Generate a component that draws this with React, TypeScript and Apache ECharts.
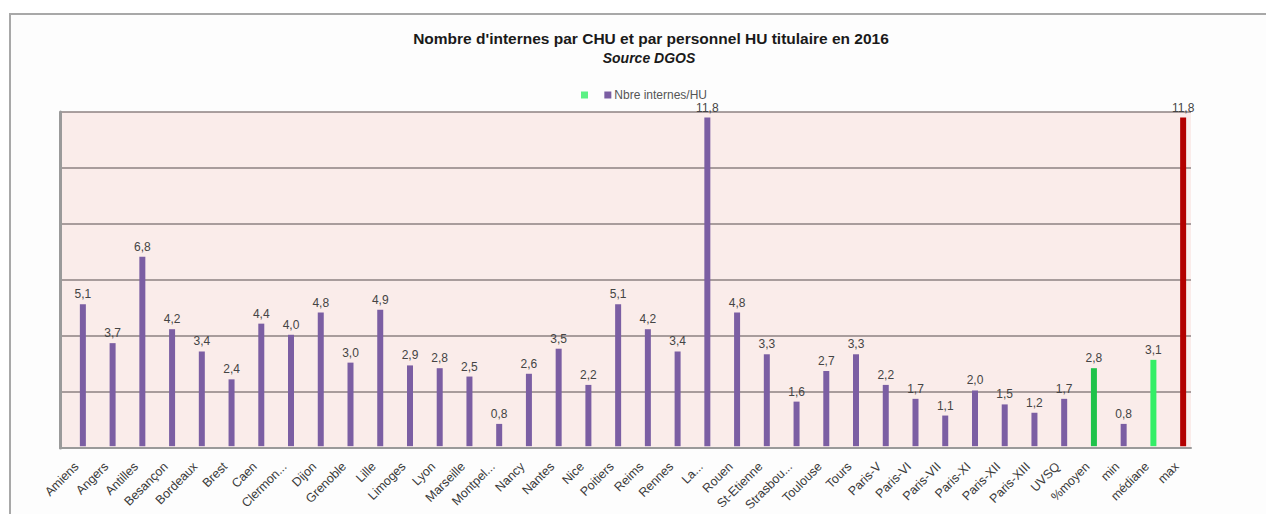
import React, { useEffect, useRef } from "react";
import * as echarts from "echarts";

const categories = [
  "Amiens", "Angers", "Antilles", "Besançon", "Bordeaux", "Brest", "Caen", "Clermon...",
  "Dijon", "Grenoble", "Lille", "Limoges", "Lyon", "Marseille", "Montpel...", "Nancy",
  "Nantes", "Nice", "Poitiers", "Reims", "Rennes", "La...", "Rouen", "St-Etienne",
  "Strasbou...", "Toulouse", "Tours", "Paris-V", "Paris-VI", "Paris-VII", "Paris-XI",
  "Paris-XII", "Paris-XIII", "UVSQ", "%moyen", "min", "médiane", "max",
];

const internesParHU = [
  5.1, 3.7, 6.8, 4.2, 3.4, 2.4, 4.4, 4.0, 4.8, 3.0, 4.9, 2.9, 2.8, 2.5, 0.8, 2.6,
  3.5, 2.2, 5.1, 4.2, 3.4, 11.8, 4.8, 3.3, 1.6, 2.7, 3.3, 2.2, 1.7, 1.1, 2.0,
  1.5, 1.2, 1.7, 2.8, 0.8, 3.1, 11.8,
];

const titleText = "Nombre d'internes par CHU et par personnel HU titulaire en 2016";
const subtitleText = "Source DGOS";
const seriesName = "Nbre internes/HU";

const PURPLE = "#7b5ea3";
const GREEN_DARK = "#1fc24a";
const GREEN_LIGHT = "#33ee66";
const RED = "#b30000";

function barColor(name: string): string {
  if (name === "%moyen") return GREEN_DARK;
  if (name === "médiane") return GREEN_LIGHT;
  if (name === "max") return RED;
  return PURPLE;
}

export default function App() {
  const ref = useRef<HTMLDivElement>(null);

  useEffect(() => {
    if (!ref.current) return;
    const chart = echarts.init(ref.current, null, { renderer: "svg" });
    const font = "'Liberation Sans', Arial, sans-serif";
    chart.setOption({
      animation: false,
      backgroundColor: "#ffffff",
      textStyle: { fontFamily: font },
      graphic: [
        {
          type: "rect",
          z: -10,
          silent: true,
          shape: { x: 10, y: 14, width: 1300, height: 600 },
          style: { fill: "#fdfdfd", stroke: "#a8a8a8", lineWidth: 2 },
        },
      ],
      title: [
        {
          text: titleText,
          left: 646,
          textAlign: "center",
          top: 25,
          textStyle: { fontSize: 15.5, fontWeight: "bold", color: "#1a1a1a", fontFamily: font },
        },
        {
          text: subtitleText,
          left: 644,
          textAlign: "center",
          top: 46,
          textStyle: { fontSize: 14, fontWeight: "bold", fontStyle: "italic", color: "#1a1a1a", fontFamily: font },
        },
      ],
      legend: {
        top: 84,
        left: 576,
        itemWidth: 7,
        itemHeight: 7,
        itemGap: 10,
        icon: "rect",
        data: [
          { name: " ", itemStyle: { color: GREEN_LIGHT } },
          { name: seriesName, itemStyle: { color: PURPLE } },
        ],
        textStyle: { fontSize: 12, color: "#555", fontFamily: font, padding: [0, 0, 0, -2] },
      },
      grid: [
        { left: 60, top: 112, width: 1131, height: 336, show: true, backgroundColor: "#faecea", borderWidth: 0 },
        { left: 68, top: 112, width: 1130, height: 336, show: false },
      ],
      xAxis: [
        {
          type: "value",
          gridIndex: 0,
          min: 0,
          max: 1,
          axisLine: { show: true, lineStyle: { color: "#9a9a9a", width: 2 } },
          axisTick: { show: false },
          axisLabel: { show: false },
          splitLine: { show: false },
        },
        {
          type: "category",
          gridIndex: 1,
          data: categories,
          axisLine: { show: false },
          axisTick: { show: false },
          axisLabel: {
            interval: 0,
            rotate: 45,
            margin: 12,
            padding: [0, 9, 0, 0],
            fontSize: 12.5,
            color: "#3a3a3a",
            fontFamily: font,
          },
        },
      ],
      yAxis: [
        {
          type: "value",
          gridIndex: 0,
          min: 0,
          max: 12,
          interval: 2,
          axisLine: { show: true, lineStyle: { color: "#9a9a9a", width: 3 } },
          axisTick: { show: false },
          axisLabel: { show: false },
          splitLine: { show: true, lineStyle: { color: "#8c8282", width: 1.5 } },
        },
        {
          type: "value",
          gridIndex: 1,
          min: 0,
          max: 12,
          interval: 2,
          axisLine: { show: false },
          axisTick: { show: false },
          axisLabel: { show: false },
          splitLine: { show: false },
        },
      ],
      series: [
        {
          name: " ",
          type: "scatter",
          xAxisIndex: 1,
          yAxisIndex: 1,
          data: [],
          itemStyle: { color: GREEN_LIGHT },
        },
        {
          name: seriesName,
          type: "bar",
          xAxisIndex: 1,
          yAxisIndex: 1,
          barWidth: 6,
          data: internesParHU,
          itemStyle: {
            color: (p: any) => barColor(p.name),
          },
          label: {
            show: true,
            position: "top",
            distance: 4,
            fontSize: 12,
            color: "#444",
            fontFamily: font,
            formatter: (p: any) => Number(p.value).toFixed(1).replace(".", ","),
          },
        },
      ],
    });
    return () => chart.dispose();
  }, []);

  return (
    <div
      ref={ref}
      style={{ position: "fixed", left: 0, top: 0, width: 1266, height: 514 }}
    />
  );
}
